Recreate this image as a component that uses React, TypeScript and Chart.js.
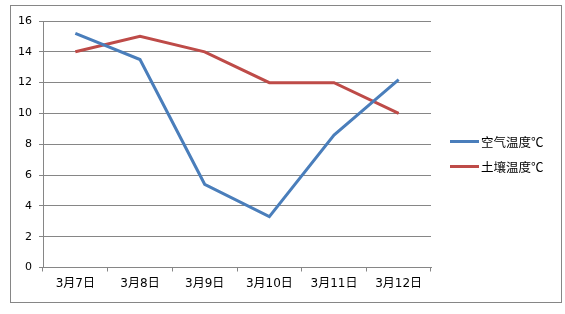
import React, { useEffect, useRef } from "react";
import { Chart, registerables } from "chart.js";

Chart.register(...registerables);

const categories = ["3月7日", "3月8日", "3月9日", "3月10日", "3月11日", "3月12日"];
const airTemp = [15.2, 13.5, 5.4, 3.3, 8.6, 12.2];
const soilTemp = [14, 15, 14, 12, 12, 10];
const seriesNames = ["空气温度℃", "土壤温度℃"];
const seriesColors = ["#4A7EBB", "#BE4B48"];

const FONT = '"DejaVu Sans", "Noto Sans CJK SC", sans-serif';

export default function App() {
  const ref = useRef<HTMLCanvasElement | null>(null);

  useEffect(() => {
    document.body.style.margin = "0";
    const canvas = ref.current;
    if (!canvas) return;
    const chart = new Chart(canvas, {
      type: "line",
      data: {
        labels: categories,
        datasets: [
          {
            label: seriesNames[0],
            data: airTemp,
            borderColor: seriesColors[0],
            backgroundColor: seriesColors[0],
            borderWidth: 3,
            pointRadius: 0,
            tension: 0,
          },
          {
            label: seriesNames[1],
            data: soilTemp,
            borderColor: seriesColors[1],
            backgroundColor: seriesColors[1],
            borderWidth: 3,
            pointRadius: 0,
            tension: 0,
          },
        ],
      },
      options: {
        animation: false,
        responsive: false,
        devicePixelRatio: 1,
        layout: { padding: { left: 0, top: 21, right: 134, bottom: 0 } },
        plugins: { legend: { display: false }, tooltip: { enabled: false } },
        scales: {
          x: {
            offset: true,
            grid: {
              offset: true,
              drawOnChartArea: false,
              drawTicks: true,
              tickLength: 4,
              color: "#868686",
            },
            border: { display: true, color: "#868686" },
            ticks: {
              color: "#000",
              font: { family: FONT, size: 12 },
              padding: 5,
              maxRotation: 0,
            },
            afterFit: (s: any) => {
              s.height = 46.5;
            },
          },
          y: {
            min: 0,
            max: 16,
            ticks: {
              stepSize: 2,
              color: "#000",
              font: { family: FONT, size: 11 },
              padding: 7,
            },
            grid: { color: "#868686", tickLength: 4 },
            border: { display: true, color: "#868686" },
            afterFit: (s: any) => {
              s.width = 43;
            },
          },
        },
      },
    });
    return () => chart.destroy();
  }, []);

  return (
    <div style={{ position: "relative", width: 565, height: 314, background: "#fff" }}>
      <div
        style={{
          position: "absolute",
          left: 10,
          top: 5,
          width: 550,
          height: 296,
          border: "1px solid #868686",
        }}
      />
      <canvas ref={ref} width={565} height={314} style={{ position: "absolute", left: 0, top: 0 }} />
      {seriesNames.map((n, i) => (
        <div
          key={n}
          style={{
            position: "absolute",
            left: 450,
            top: 133 + i * 25,
            height: 17,
            display: "flex",
            alignItems: "center",
            fontFamily: '"Noto Sans CJK SC", sans-serif',
            fontSize: 12.5,
            color: "#000",
            whiteSpace: "nowrap",
          }}
        >
          <span style={{ display: "inline-block", width: 29, height: 3, background: seriesColors[i], marginRight: 2 }} />
          {n}
        </div>
      ))}
    </div>
  );
}
